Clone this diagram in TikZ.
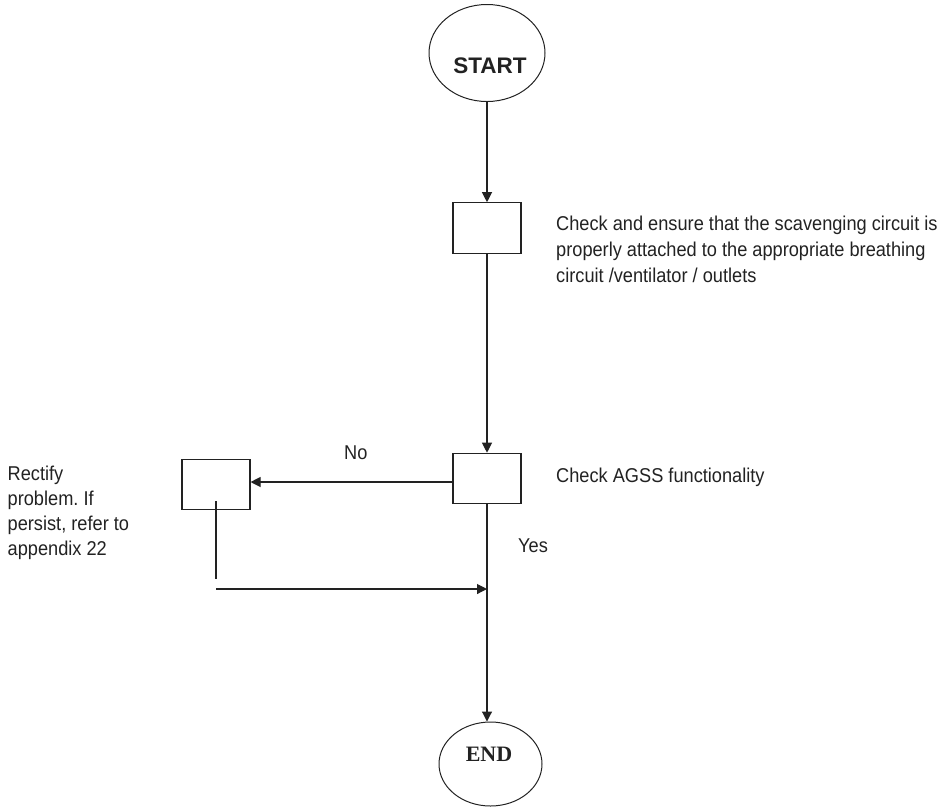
\documentclass[tikz,border=0pt]{standalone}
\usepackage{fontspec}
\setmainfont{Liberation Sans}
\newfontfamily\bodyfont[FakeStretch=0.91]{Liberation Sans}
\newfontfamily\endfont{Liberation Serif}
\usetikzlibrary{shapes.geometric,arrows.meta}
\definecolor{ink}{HTML}{222222}
\frenchspacing

\begin{document}
\begin{tikzpicture}[x=1pt,y=-1pt,
  flow/.style={line width=1.1pt, draw=ink},
  arr/.style={flow, -{Triangle[length=10pt,width=10pt]}},
  terminal/.style={ellipse, draw=ink, line width=1pt, inner sep=0pt},
  stepbox/.style={rectangle, draw=ink, line width=1.1pt, minimum width=68pt, minimum height=50.5pt, inner sep=0pt},
  note/.style={font=\bodyfont\fontsize{20}{25.8}\selectfont, align=left, inner sep=0pt, anchor=base west, text=ink},
]
\useasboundingbox (0,0) rectangle (949,807);

% terminals
\node[terminal, minimum width=116pt, minimum height=97pt] (start) at (487,53) {};
\node[font=\bfseries\fontsize{22.5}{27}\selectfont, text=ink, inner sep=0pt] (starttext) at (490,66) {START};
\node[terminal, minimum width=103pt, minimum height=84pt] (finish) at (490.5,764) {};
\node[font=\endfont\bfseries\fontsize{22}{26}\selectfont, text=ink, inner sep=0pt] (finishtext) at (489,754) {END};

% process boxes
\node[stepbox] (attach) at (487,228) {};
\node[stepbox] (agss) at (487,478.5) {};
\node[stepbox] (rectify) at (216,484.5) {};

% descriptions (multi-line notes are placed by their last baseline)
\node[note] (attachtext) at (556,282.1) {Check and ensure that the scavenging circuit is\\properly attached to the appropriate breathing\\circuit /ventilator / outlets};
\node[note] (agsstext) at (556,482.7) {Check AGSS functionality};
\node[note, font=\bodyfont\fontsize{20}{25}\selectfont] (rectifytext) at (7.5,555) {Rectify\\problem. If\\persist, refer to\\appendix 22};
\node[note] (nolabel) at (344,459) {No};
\node[note] (yeslabel) at (518,552.7) {Yes};

% connectors
\draw[arr] (start) -- (attach);
\draw[arr] (attach) -- (agss);
\draw[arr] ([yshift=-3.5pt]agss.west) -- ([yshift=-3.5pt]agss.west -| rectify.east);
\coordinate (dropend) at (216,579);
\draw[flow] ([yshift=9pt]rectify.south) -- (dropend);
\coordinate (returnstart) at (216,589);
\draw[arr] (returnstart) -- (returnstart -| agss.south);
\draw[arr] (agss) -- (agss |- finish.north);
\end{tikzpicture}
\end{document}
